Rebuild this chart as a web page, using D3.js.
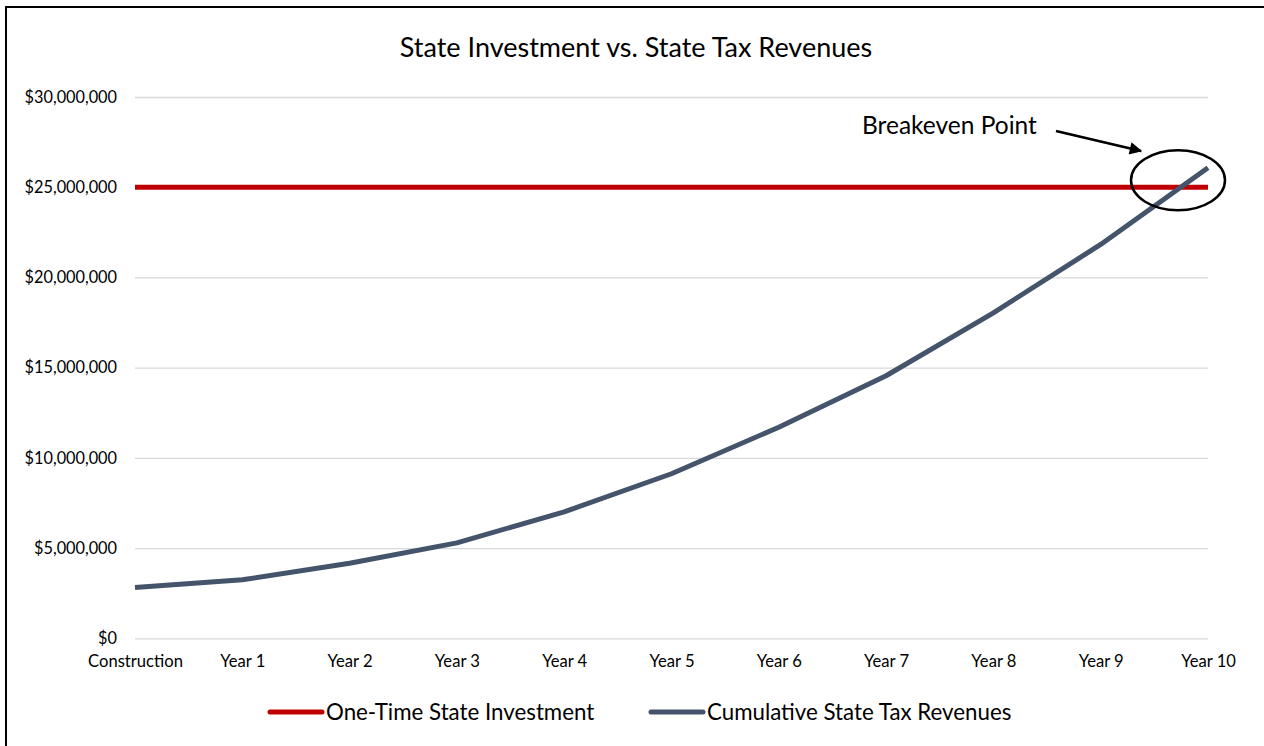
<html>
<meta charset="utf-8" />
<head>
<title>State Investment vs. State Tax Revenues</title>
<script src="https://cdn.jsdelivr.net/npm/d3@7/dist/d3.min.js"></script>
<style>
	body { margin: 0; background: #fff; }
	text { font-family: Lato, "Open Sans", sans-serif; fill: #000; }
</style>
<script>
// chart values
const periods = ['Construction', 'Year 1', 'Year 2', 'Year 3', 'Year 4', 'Year 5',
	'Year 6', 'Year 7', 'Year 8', 'Year 9', 'Year 10'];
const cumulativeRevenue = [2810000, 3240000, 4160000, 5290000, 7010000, 9120000,
	11700000, 14550000, 18040000, 21830000, 26080000];
const stateInvestment = [25000000, 25000000, 25000000, 25000000, 25000000, 25000000,
	25000000, 25000000, 25000000, 25000000, 25000000];
const yTicks = [0, 5000000, 10000000, 15000000, 20000000, 25000000, 30000000];
const seriesNames = ['One-Time State Investment', 'Cumulative State Tax Revenues'];
const seriesColors = ['#C00000', '#44546A'];

window.onload = function() {
	const svg = d3.select('svg');
	const W = 1264, H = 746;

	// frame of the chart (only left/top edges fall inside the picture)
	svg.append('rect').attr('x', 6).attr('y', 7).attr('width', W).attr('height', H)
		.attr('fill', 'none').attr('stroke', '#000').attr('stroke-width', 2);

	const x = d3.scalePoint().domain(periods).range([135, 1208]);
	const y = d3.scaleLinear().domain([0, 30000000]).range([638.3, 97]);

	// title
	svg.append('text').attr('x', 636).attr('y', 57).attr('text-anchor', 'middle')
		.style('font-size', '27px').text('State Investment vs. State Tax Revenues');

	// y grid + labels
	const yAxis = d3.axisLeft(y).tickValues(yTicks)
		.tickFormat(d => '$' + d3.format(',')(d))
		.tickSize(-(1208 - 135)).tickPadding(18);
	const gy = svg.append('g').attr('transform', 'translate(135,0)').call(yAxis);
	gy.select('.domain').remove();
	gy.selectAll('line').attr('stroke', '#d9d9d9').attr('stroke-width', 1.3);
	gy.selectAll('text').style('font-size', '16.3px').attr('fill', '#000');

	// x labels
	const xAxis = d3.axisBottom(x).tickSize(0).tickPadding(17);
	const gx = svg.append('g').attr('transform', 'translate(0,' + 638.3 + ')').call(xAxis);
	gx.select('.domain').remove();
	gx.selectAll('text').style('font-size', '16.6px').attr('fill', '#000');

	const line = d3.line().x((d, i) => x(periods[i])).y(d => y(d));

	svg.append('path').datum(stateInvestment).attr('d', line)
		.attr('fill', 'none').attr('stroke', seriesColors[0]).attr('stroke-width', 5);
	svg.append('path').datum(cumulativeRevenue).attr('d', line)
		.attr('fill', 'none').attr('stroke', seriesColors[1]).attr('stroke-width', 5)
		.attr('stroke-linejoin', 'round');

	// breakeven annotation
	const bx = x('Year 10') - 30, by = y(25000000) - 7;
	svg.append('ellipse').attr('cx', bx).attr('cy', by).attr('rx', 47).attr('ry', 30)
		.attr('fill', 'none').attr('stroke', '#000').attr('stroke-width', 2.5);
	svg.append('defs').append('marker').attr('id', 'arrow')
		.attr('viewBox', '0 0 10 10').attr('refX', 9).attr('refY', 5)
		.attr('markerWidth', 6).attr('markerHeight', 5).attr('orient', 'auto')
		.append('path').attr('d', 'M0,0 L10,5 L0,10 Z').attr('fill', '#000');
	svg.append('line').attr('x1', 1056).attr('y1', 131).attr('x2', 1141).attr('y2', 151)
		.attr('stroke', '#000').attr('stroke-width', 2.5).attr('marker-end', 'url(#arrow)');
	svg.append('text').attr('x', 862).attr('y', 134).style('font-size', '24.5px')
		.text('Breakeven Point');

	// legend
	const legend = svg.append('g');
	const lx = [268, 649];
	seriesNames.forEach((name, i) => {
		legend.append('line').attr('x1', lx[i] + 2).attr('x2', lx[i] + 54)
			.attr('y1', 712).attr('y2', 712)
			.attr('stroke', seriesColors[i]).attr('stroke-width', 5).attr('stroke-linecap', 'round');
		legend.append('text').attr('x', lx[i] + 58).attr('y', 712).attr('dy', '0.35em')
			.style('font-size', '22.3px').text(name);
	});
}
</script>
</head>
<body>
<svg width="1264" height="746"></svg>
</body>
</html>
